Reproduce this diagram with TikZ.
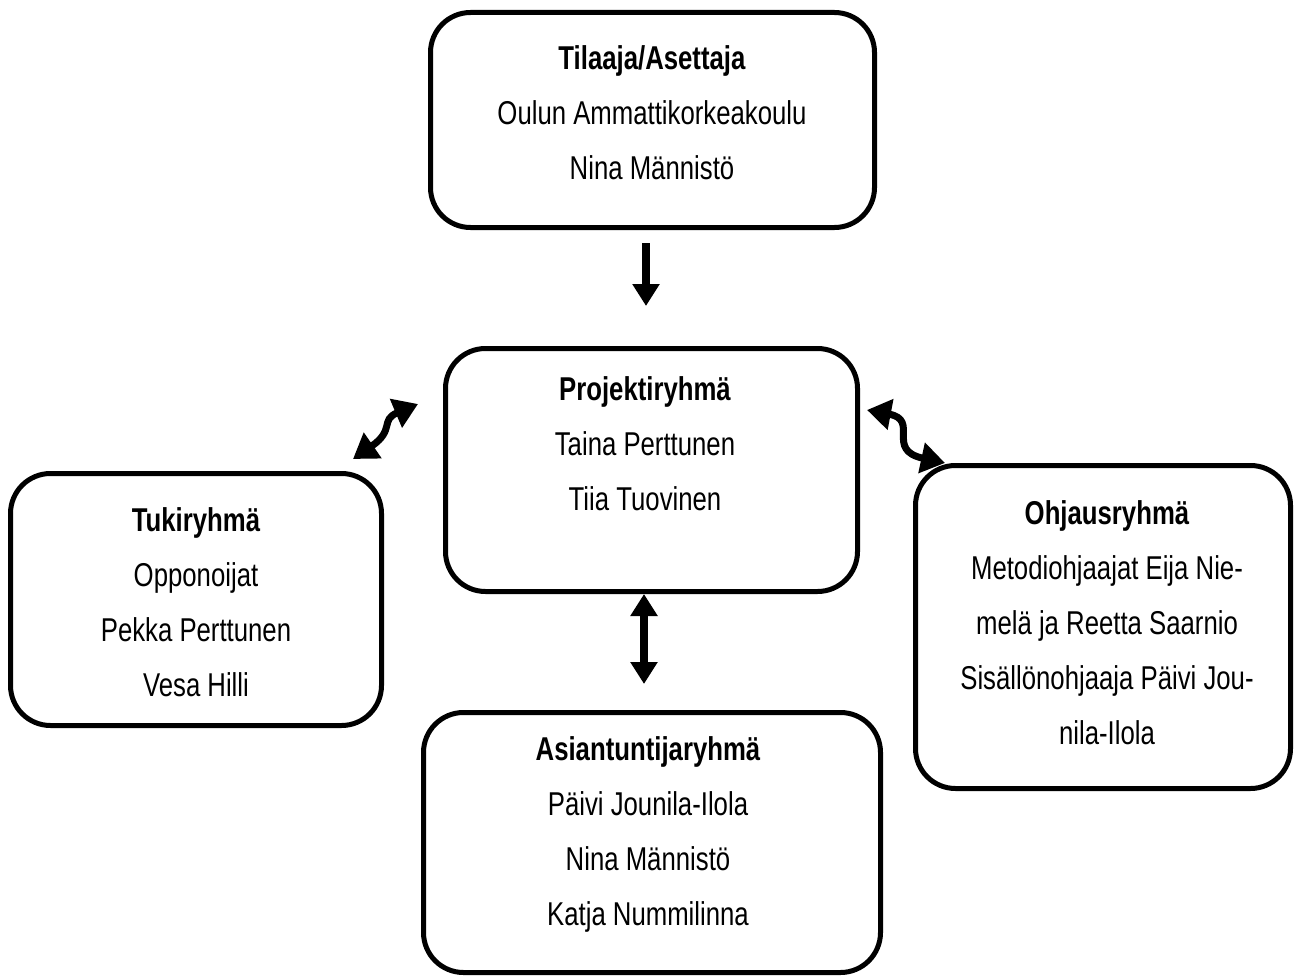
\documentclass[tikz,border=0pt]{standalone}
\usepackage{fontspec}
\setmainfont{Liberation Sans}[FakeStretch=0.78]
\usetikzlibrary{arrows.meta}
\begin{document}
\begin{tikzpicture}[x=1pt,y=-1pt,
  box/.style={draw=black,line width=5pt,rounded corners=40pt,inner sep=0pt},
  txt/.style={align=center,font=\fontsize{33}{55}\selectfont,inner sep=0pt},
  arr/.style={line width=8pt,-{Triangle[length=22pt,width=26pt]}},
  darr/.style={line width=8pt,{Triangle[length=22pt,width=26pt]}-{Triangle[length=22pt,width=26pt]}},
  warr/.style={line width=7pt,{Triangle[length=24pt,width=30pt]}-{Triangle[length=24pt,width=30pt]}}]
\useasboundingbox (0,0) rectangle (1301,979);
\node[box,minimum width=444pt,minimum height=215pt] (top) at (652.5,120) {};
\node[box,minimum width=412pt,minimum height=243pt] (mid) at (651.5,470) {};
\node[box,minimum width=371pt,minimum height=252pt] (left) at (196,599.5) {};
\node[box,minimum width=375pt,minimum height=323pt] (right) at (1103,627) {};
\node[box,minimum width=457pt,minimum height=260pt] (bot) at (652,842.5) {};
\node[txt] (topt) at (652,113) {\textbf{Tilaaja/Asettaja}\\Oulun Ammattikorkeakoulu\\Nina Männistö};
\node[txt] (midt) at (645,444) {\textbf{Projektiryhmä}\\Taina Perttunen\\Tiia Tuovinen};
\node[txt] (leftt) at (196,602) {\textbf{Tukiryhmä}\\Opponoijat\\Pekka Perttunen\\Vesa Hilli};
\node[txt] (rightt) at (1107,623) {\textbf{Ohjausryhmä}\\Metodiohjaajat Eija Nie-\\melä ja Reetta Saarnio\\Sisällönohjaaja Päivi Jou-\\nila-Ilola};
\node[txt] (bott) at (648,834) {\textbf{Asiantuntijaryhmä}\\Päivi Jounila-Ilola\\Nina Männistö\\Katja Nummilinna};
\coordinate (a1s) at (646,243);
\coordinate (a1e) at (646,306);
\draw[arr] (a1s) -- (a1e);
\coordinate (a2s) at (644,594);
\coordinate (a2e) at (644,684);
\draw[darr] (a2s) -- (a2e);
\coordinate (a3s) at (353,459);
\coordinate (a3e) at (418,404);
\draw[warr] (a3s) .. controls (395,430) and (380,420) .. (a3e);
\coordinate (a4s) at (867,410);
\coordinate (a4e) at (945,463);
\draw[warr] (a4s) .. controls (920,420) and (885,450) .. (a4e);
\end{tikzpicture}
\end{document}
